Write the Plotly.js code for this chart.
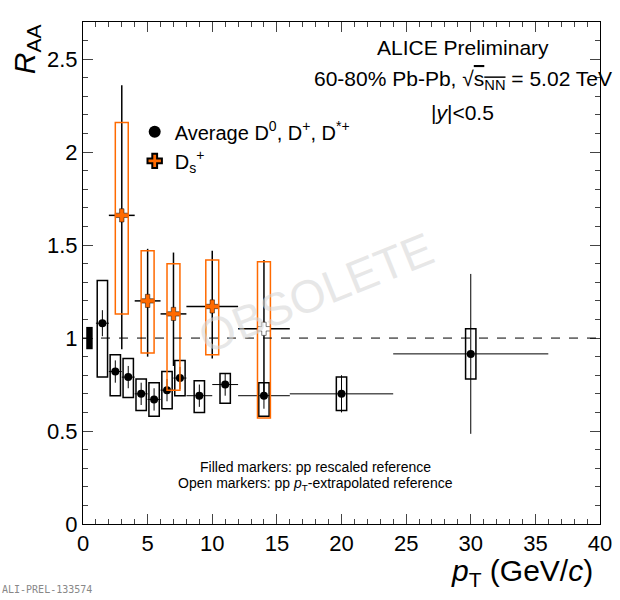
<!DOCTYPE html>
<html><head><script src="https://cdn.plot.ly/plotly-3.0.1.min.js"></script>
<style>body{margin:0}</style></head><body><div id="c" style="width:620px;height:600px"></div>
<script>
// Average D0, D+, D*+
const dX = [1.5,2.5,3.5,4.5,5.5,6.5,7.5,9,11,14,20,30];
const dXlo = [0.5,0.5,0.5,0.5,0.5,0.5,0.5,1,1,2,4,6];
const dY = [1.08,0.82,0.79,0.70,0.67,0.72,0.785,0.69,0.75,0.69,0.70,0.915];
const dStat = [0.07,0.06,0.06,0.06,0.06,0.06,0.06,0.06,0.06,0.07,0.1,0.43];
const dSysLo = [0.79,0.69,0.68,0.61,0.58,0.62,0.69,0.60,0.65,0.58,0.61,0.78];
const dSysHi = [1.31,0.91,0.89,0.78,0.76,0.82,0.88,0.77,0.81,0.76,0.79,1.05];
// Ds+
const sX = [3,5,7,10,14];
const sXerr = [1,1,1,2,2];
const sY = [1.66,1.20,1.13,1.17,1.05];
const sStatHi = [0.70,0.28,0.33,0.30,0.37];
const sStatLo = [0.72,0.30,0.28,0.28,0.36];
const sSysLo = [1.13,0.92,0.72,0.91,0.57];
const sSysHi = [2.16,1.47,1.40,1.42,1.41];
const sOpen = [false,false,false,false,true];

const shapes=[];
dX.forEach((x,i)=>{const hw=0.4;shapes.push({type:'rect',xref:'x',yref:'y',x0:x-hw,x1:x+hw,y0:dSysLo[i],y1:dSysHi[i],line:{color:'black',width:1.5}});});
sX.forEach((x,i)=>{const hw=0.5;shapes.push({type:'rect',xref:'x',yref:'y',x0:x-hw,x1:x+hw,y0:sSysLo[i],y1:sSysHi[i],line:{color:'#ff6a00',width:1.5}});});
shapes.push({type:'line',xref:'x',yref:'y',x0:0,x1:40,y0:1,y1:1,line:{color:'black',width:1,dash:'dash'}});
shapes.push({type:'rect',xref:'x',yref:'y',x0:0.25,x1:0.75,y0:0.94,y1:1.06,fillcolor:'black',line:{width:0}});

const traces=[
{x:dX,y:dY,mode:'markers',name:'Average D<sup>0</sup>, D<sup>+</sup>, D<sup>*+</sup>',marker:{color:'black',size:8},
 error_x:{type:'data',array:dXlo,color:'black',width:0,thickness:1},
 error_y:{type:'data',array:dStat,color:'black',width:0,thickness:1}},
{x:sX,y:sY,mode:'markers',name:'D<sub>s</sub><sup>+</sup>',
 marker:{symbol:'cross',color:sOpen.map(o=>o?'white':'#ff6a00'),size:11,line:{color:'black',width:0.5}},
 error_x:{type:'data',array:sXerr,color:'black',width:0,thickness:1.5},
 error_y:{type:'data',symmetric:false,array:sStatHi,arrayminus:sStatLo,color:'black',width:0,thickness:1.5}}
];
const ax={showgrid:false,zeroline:false,ticks:'inside',mirror:'ticks',showline:true,linecolor:'black',linewidth:1,tickfont:{family:'Liberation Sans',size:22,color:'black'},ticklen:10};
Plotly.newPlot('c',traces,{
 width:620,height:600,margin:{l:83,r:20,t:22,b:76},paper_bgcolor:'white',plot_bgcolor:'white',
 xaxis:Object.assign({},ax,{range:[0,40],dtick:5,minor:{dtick:1,ticks:'inside',ticklen:5}}),
 yaxis:Object.assign({},ax,{range:[0,2.7],dtick:0.5,minor:{dtick:0.1,ticks:'inside',ticklen:5}}),
 shapes:shapes,
 legend:{x:0.1,y:0.82,bgcolor:'rgba(0,0,0,0)',font:{family:'Liberation Sans',size:20,color:'black'},itemsizing:'constant'},
 font:{family:'Liberation Sans',color:'black'},
 annotations:[
  {xref:'paper',yref:'paper',x:0.735,y:0.95,text:'ALICE Preliminary',showarrow:false,font:{size:21},xanchor:'center',yanchor:'middle'},
  {xref:'paper',yref:'paper',x:0.735,y:0.885,text:'60-80% Pb-Pb, √<span style="text-decoration:overline">s<sub>NN</sub></span> = 5.02 TeV',showarrow:false,font:{size:21},xanchor:'center',yanchor:'middle'},
  {xref:'paper',yref:'paper',x:0.735,y:0.82,text:'|<i>y</i>|<0.5',showarrow:false,font:{size:21},xanchor:'center',yanchor:'middle'},
  {xref:'paper',yref:'paper',x:0.45,y:0.46,text:'OBSOLETE',textangle:-22,showarrow:false,font:{size:46,color:'rgba(215,215,215,0.6)'}},
  {xref:'paper',yref:'paper',x:0.45,y:0.094,text:'Filled markers: pp rescaled reference',showarrow:false,font:{size:14}},
  {xref:'paper',yref:'paper',x:0.45,y:0.058,text:'Open markers: pp <i>p</i><sub>T</sub>-extrapolated reference',showarrow:false,font:{size:14}},
  {xref:'paper',yref:'paper',x:-0.11,y:1.0,text:'<i>R</i><sub>AA</sub>',textangle:-90,showarrow:false,font:{size:30},xanchor:'center',yanchor:'top'},
  {xref:'paper',yref:'paper',x:0.99,y:-0.055,text:'<i>p</i><sub>T</sub> (GeV/<i>c</i>)',showarrow:false,font:{size:30},xanchor:'right',yanchor:'top'},
  {xref:'paper',yref:'paper',x:-0.16,y:-0.145,text:'ALI-PREL-133574',showarrow:false,font:{size:10,family:'DejaVu Sans Mono',color:'#888'},xanchor:'left',yanchor:'bottom'}
 ]
},{staticPlot:true});
</script></body></html>
